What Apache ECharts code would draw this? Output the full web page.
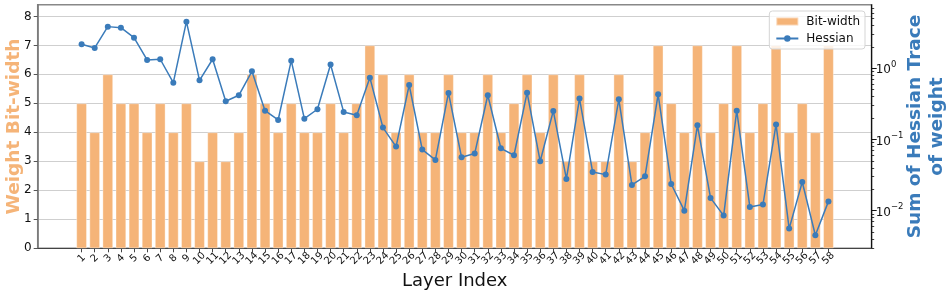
<!DOCTYPE html>
<html>
<head>
<meta charset="utf-8">
<script src="https://cdn.jsdelivr.net/npm/echarts@6/dist/echarts.min.js"></script>
<style>
html,body{margin:0;padding:0;background:#fff;}
#chart{width:951px;height:296px;}
</style>
</head>
<body>
<div id="chart"></div>
<script>
const layers = [1,2,3,4,5,6,7,8,9,10,11,12,13,14,15,16,17,18,19,20,21,22,23,24,25,26,27,28,29,30,31,32,33,34,35,36,37,38,39,40,41,42,43,44,45,46,47,48,49,50,51,52,53,54,55,56,57,58];
const bitWidth = [5,4,6,5,5,4,5,4,5,3,4,3,4,6,5,4,5,4,4,5,4,5,7,6,4,6,4,4,6,4,4,6,4,5,6,4,6,3,6,3,3,6,3,4,7,5,4,7,4,5,7,4,5,7,4,5,4,7];
const hessian = [2.18,1.93,3.85,3.72,2.69,1.31,1.34,0.629,4.52,0.678,1.34,0.344,0.418,0.908,0.254,0.188,1.28,0.196,0.266,1.13,0.244,0.219,0.739,0.147,0.0794,0.583,0.0721,0.0516,0.451,0.0562,0.0634,0.418,0.0752,0.060,0.455,0.0494,0.252,0.0279,0.375,0.035,0.0321,0.367,0.023,0.0304,0.431,0.0237,0.010,0.158,0.0151,0.00853,0.254,0.0113,0.0122,0.163,0.0056,0.0253,0.00451,0.0135];
const leftTicks = [0,1,2,3,4,5,6,7,8];
const rightTicks = [0.01,0.1,1];
const rightMinorTicks = [0.003,0.004,0.005,0.006,0.007,0.008,0.009,0.02,0.03,0.04,0.05,0.06,0.07,0.08,0.09,0.2,0.3,0.4,0.5,0.6,0.7,0.8,0.9,2,3,4,5,6,7];

const FONT = 'DejaVu Sans';
const ORANGE = '#F5B478';
const BLUE = '#3A7BBA';

// split tick labels over two overlaid axes so ECharts does not drop neighbouring rotated labels
const oddLayers = layers.filter((l, i) => i % 2 === 0);
const evenLayers = layers.filter((l, i) => i % 2 === 1);
const xLabelStyle = {interval: 0, rotate: 45, align: 'center', verticalAlign: 'middle', fontSize: 10, color: '#111', margin: 10, fontFamily: FONT, hideOverlap: false, showMinLabel: true, showMaxLabel: true};

const chart = echarts.init(document.getElementById('chart'), null, {renderer: 'canvas'});
chart.setOption({
  animation: false,
  textStyle: {fontFamily: FONT},
  grid: {left: 37.7, right: 79.3, top: 4.8, bottom: 47.7, show: true, borderColor: '#888', borderWidth: 1.5, containLabel: false, outerBoundsMode: 'none'},
  legend: {
    orient: 'vertical', right: 86, top: 11, itemWidth: 22, itemHeight: 8, itemGap: 2,
    padding: [3, 5, 3, 6], borderColor: '#d5d5d5', borderWidth: 1, borderRadius: 3,
    backgroundColor: 'rgba(255,255,255,0.8)',
    textStyle: {fontFamily: FONT, fontSize: 12, color: '#111', padding: [0, 0, 0, 3], lineHeight: 15},
    data: [{name: 'Bit-width', icon: 'rect'}, {name: 'Hessian'}]
  },
  xAxis: [
    {
      type: 'value', min: -2.35, max: 61.3, position: 'bottom',
      name: 'Layer Index', nameLocation: 'middle', nameGap: 24, nameMoveOverlap: false,
      nameTextStyle: {fontFamily: FONT, fontSize: 18, color: '#111'},
      axisLine: {onZero: false, lineStyle: {color: '#444', width: 1.2}},
      axisTick: {show: true, customValues: layers, length: 4, lineStyle: {color: '#444'}},
      axisLabel: Object.assign({customValues: oddLayers}, xLabelStyle),
      splitLine: {show: false}
    },
    {
      type: 'value', min: -2.35, max: 61.3, position: 'bottom',
      axisLine: {show: false, onZero: false},
      axisTick: {show: false},
      axisLabel: Object.assign({customValues: evenLayers}, xLabelStyle),
      splitLine: {show: false}
    }
  ],
  yAxis: [
    {
      type: 'value', min: 0, max: 8.4, interval: 1, position: 'left',
      name: 'Weight Bit-width', nameLocation: 'middle', nameGap: 14, nameRotate: 90, nameMoveOverlap: false,
      nameTextStyle: {fontFamily: FONT, fontSize: 18.5, fontWeight: 'bold', color: ORANGE},
      axisLine: {show: true, onZero: false, lineStyle: {color: '#777', width: 1.5}},
      axisTick: {show: true, customValues: leftTicks, length: 4, lineStyle: {color: '#555'}},
      axisLabel: {customValues: leftTicks, fontSize: 12, color: '#111', margin: 6, fontFamily: FONT},
      splitLine: {show: true, lineStyle: {color: '#cfcfcf', width: 1.2}}
    },
    {
      type: 'log', logBase: 10, min: 0.00296, max: 7.8, position: 'right',
      name: 'Sum of Hessian Trace\nof weight', nameLocation: 'middle', nameGap: 32, nameRotate: 90, nameMoveOverlap: false,
      nameTextStyle: {fontFamily: FONT, fontSize: 18.5, fontWeight: 'bold', color: BLUE, lineHeight: 22, align: 'center'},
      axisLine: {show: true, onZero: false, lineStyle: {color: '#111', width: 1.2}},
      axisTick: {show: true, customValues: rightTicks, length: 5, lineStyle: {color: '#111'}},
      axisLabel: {
        customValues: rightTicks, margin: 4, color: '#111', fontFamily: FONT, fontSize: 12,
        formatter: function (v) {
          const e = String(Math.round(Math.log10(v)));
          return '{b|10}{s|' + e.replace('-', '−') + '}';
        },
        rich: {b: {fontSize: 12, fontFamily: FONT, color: '#111', verticalAlign: 'bottom'}, s: {fontSize: 8.5, fontFamily: FONT, color: '#111', padding: [0,0,7,0], verticalAlign: 'bottom'}}
      },
      splitLine: {show: false}
    },
    {
      type: 'log', logBase: 10, min: 0.00296, max: 7.8, position: 'right',
      axisLine: {show: false, onZero: false},
      axisTick: {show: true, customValues: rightMinorTicks, length: 2.5, lineStyle: {color: '#111', width: 0.8}},
      axisLabel: {show: false},
      splitLine: {show: false}
    }
  ],
  series: [
    {
      name: 'Bit-width', type: 'bar', xAxisIndex: 0, yAxisIndex: 0, barWidth: 10.6,
      itemStyle: {color: ORANGE, borderColor: 'rgba(255,255,255,0.45)', borderWidth: 0.8},
      data: layers.map((l, i) => [l, bitWidth[i]]),
      z: 2
    },
    {
      name: 'Hessian', type: 'line', xAxisIndex: 0, yAxisIndex: 1,
      symbol: 'circle', symbolSize: 6,
      lineStyle: {color: BLUE, width: 1.5}, itemStyle: {color: BLUE},
      data: layers.map((l, i) => [l, hessian[i]]),
      z: 3
    }
  ]
});
</script>
</body>
</html>
